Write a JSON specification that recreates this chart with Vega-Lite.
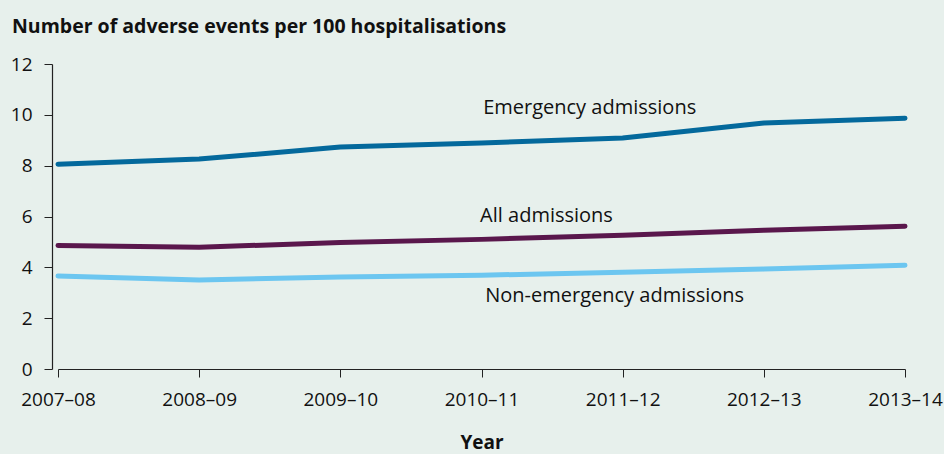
{
  "$schema": "https://vega.github.io/schema/vega-lite/v6.json",
  "width": 853,
  "height": 305,
  "autosize": {"type": "none"},
  "padding": {"left": 52, "top": 64, "right": 39, "bottom": 85},
  "background": "#e7f0ec",
  "config": {
    "view": {"stroke": null},
    "font": "Open Sans",
    "axis": {"domainColor": "#222", "tickColor": "#222", "labelColor": "#111", "titleColor": "#111", "grid": false, "labelFont": "Open Sans", "titleFont": "Open Sans"}
  },
  "title": {
    "text": "Number of adverse events per 100 hospitalisations",
    "anchor": "start",
    "frame": "group",
    "dx": -40,
    "offset": 18,
    "fontSize": 19.5,
    "fontWeight": "bold",
    "color": "#111",
    "font": "Open Sans"
  },
  "datasets": {
    "series": [
      {"year": "2007–08", "type": "Emergency admissions", "rate": 8.06},
      {"year": "2008–09", "type": "Emergency admissions", "rate": 8.26},
      {"year": "2009–10", "type": "Emergency admissions", "rate": 8.73},
      {"year": "2010–11", "type": "Emergency admissions", "rate": 8.89},
      {"year": "2011–12", "type": "Emergency admissions", "rate": 9.09},
      {"year": "2012–13", "type": "Emergency admissions", "rate": 9.68},
      {"year": "2013–14", "type": "Emergency admissions", "rate": 9.87},
      {"year": "2007–08", "type": "All admissions", "rate": 4.86},
      {"year": "2008–09", "type": "All admissions", "rate": 4.79},
      {"year": "2009–10", "type": "All admissions", "rate": 4.98},
      {"year": "2010–11", "type": "All admissions", "rate": 5.1},
      {"year": "2011–12", "type": "All admissions", "rate": 5.26},
      {"year": "2012–13", "type": "All admissions", "rate": 5.46},
      {"year": "2013–14", "type": "All admissions", "rate": 5.62},
      {"year": "2007–08", "type": "Non-emergency admissions", "rate": 3.66},
      {"year": "2008–09", "type": "Non-emergency admissions", "rate": 3.5},
      {"year": "2009–10", "type": "Non-emergency admissions", "rate": 3.62},
      {"year": "2010–11", "type": "Non-emergency admissions", "rate": 3.69},
      {"year": "2011–12", "type": "Non-emergency admissions", "rate": 3.81},
      {"year": "2012–13", "type": "Non-emergency admissions", "rate": 3.93},
      {"year": "2013–14", "type": "Non-emergency admissions", "rate": 4.08}
    ],
    "labels": [
      {"year": "2011–12", "type": "Emergency admissions", "rate": 10.25},
      {"year": "2010–11", "type": "All admissions", "rate": 6.02},
      {"year": "2011–12", "type": "Non-emergency admissions", "rate": 2.87}
    ]
  },
  "layer": [
    {
      "data": {"name": "series"},
      "mark": {"type": "line", "strokeWidth": 5, "strokeCap": "round", "strokeJoin": "round"},
      "encoding": {
        "x": {
          "field": "year", "type": "ordinal",
          "scale": {"type": "point", "range": [6, 853], "padding": 0},
          "sort": null,
          "axis": {"title": "Year", "titleFontWeight": "bold", "titleFontSize": 19, "titlePadding": 24, "labelFontSize": 19, "labelAngle": 0, "tickSize": 8, "labelPadding": 13, "domainWidth": 1.2}
        },
        "y": {
          "field": "rate", "type": "quantitative",
          "scale": {"domain": [0, 12]},
          "axis": {"title": null, "values": [0, 2, 4, 6, 8, 10, 12], "labelFontSize": 19, "tickSize": 8, "labelPadding": 12, "domainWidth": 1.2}
        },
        "color": {
          "field": "type", "type": "nominal",
          "scale": {"domain": ["Emergency admissions", "All admissions", "Non-emergency admissions"], "range": ["#04699c", "#5a174c", "#6cc6f0"]},
          "legend": null
        }
      }
    },
    {
      "data": {"name": "labels"},
      "transform": [{"filter": "datum.type === 'Emergency admissions'"}],
      "mark": {"type": "text", "fontSize": 20, "color": "#111", "dx": -33, "align": "center", "baseline": "middle"},
      "encoding": {
        "x": {"field": "year", "type": "ordinal", "sort": null},
        "y": {"field": "rate", "type": "quantitative"},
        "text": {"field": "type"}
      }
    },
    {
      "data": {"name": "labels"},
      "transform": [{"filter": "datum.type === 'All admissions'"}],
      "mark": {"type": "text", "fontSize": 20, "color": "#111", "dx": 65, "align": "center", "baseline": "middle"},
      "encoding": {
        "x": {"field": "year", "type": "ordinal", "sort": null},
        "y": {"field": "rate", "type": "quantitative"},
        "text": {"field": "type"}
      }
    },
    {
      "data": {"name": "labels"},
      "transform": [{"filter": "datum.type === 'Non-emergency admissions'"}],
      "mark": {"type": "text", "fontSize": 20, "color": "#111", "dx": -8, "align": "center", "baseline": "middle"},
      "encoding": {
        "x": {"field": "year", "type": "ordinal", "sort": null},
        "y": {"field": "rate", "type": "quantitative"},
        "text": {"field": "type"}
      }
    }
  ]
}
